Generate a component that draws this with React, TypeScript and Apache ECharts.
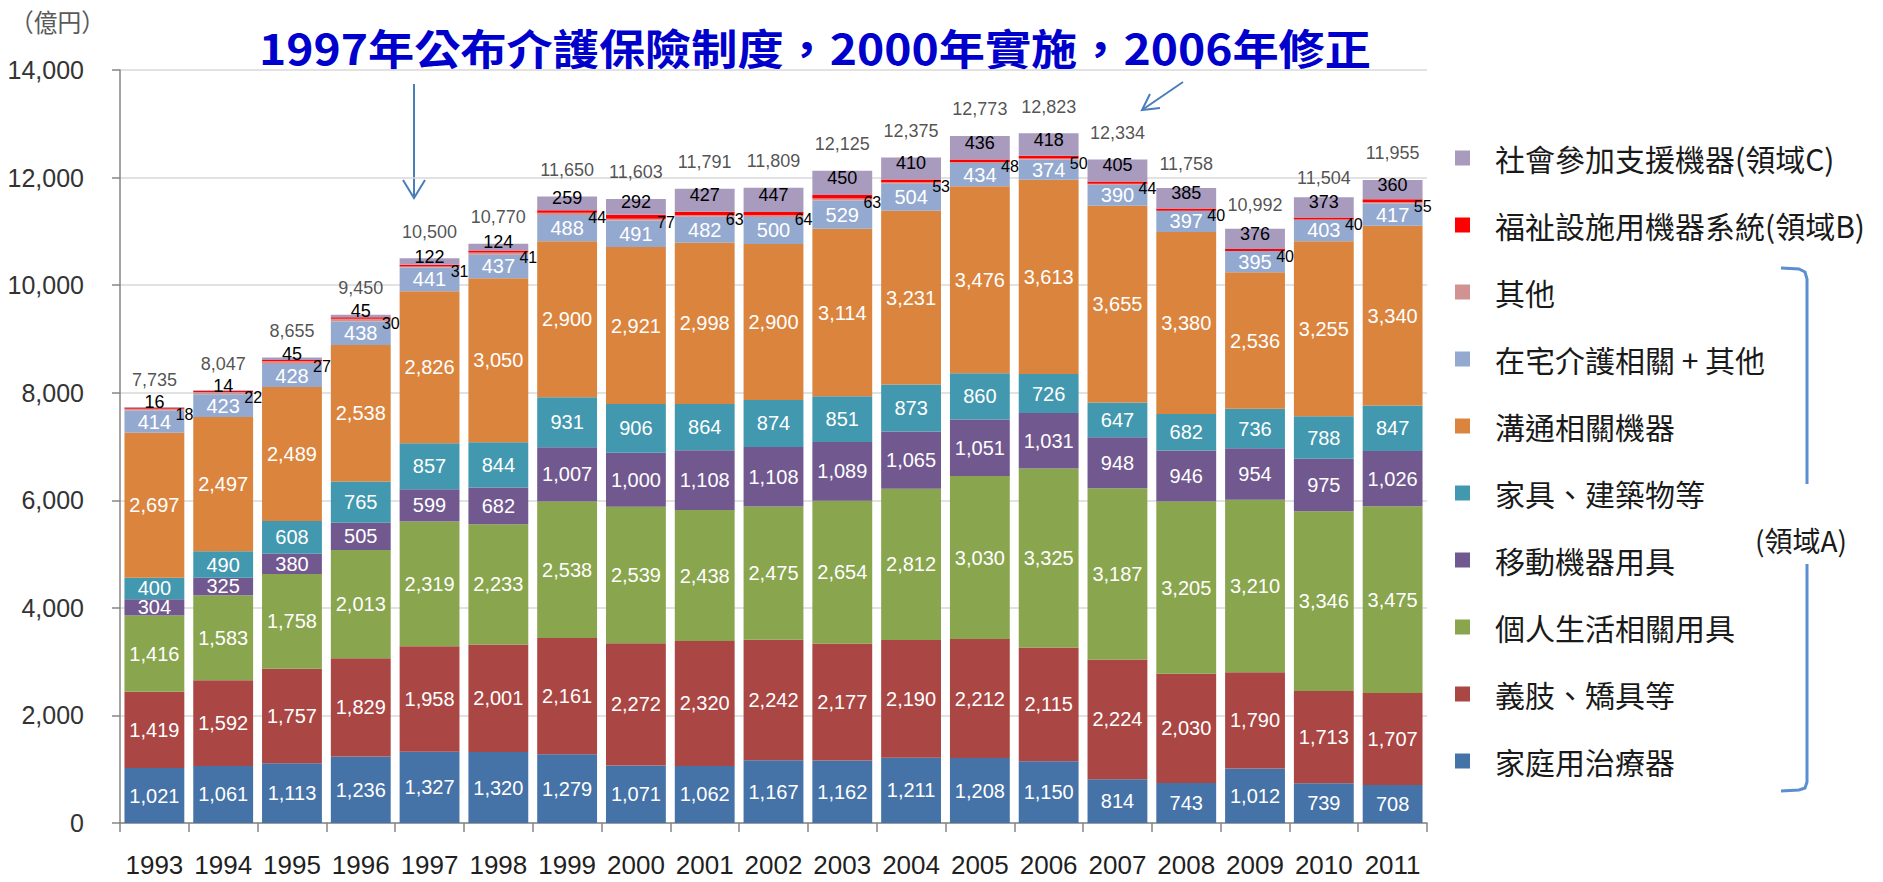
import React, { useEffect, useRef } from 'react';
import * as echarts from 'echarts';

const years = ['1993', '1994', '1995', '1996', '1997', '1998', '1999', '2000', '2001', '2002', '2003', '2004', '2005', '2006', '2007', '2008', '2009', '2010', '2011'];

// 領域A
const homeTherapy = [1021, 1061, 1113, 1236, 1327, 1320, 1279, 1071, 1062, 1167, 1162, 1211, 1208, 1150, 814, 743, 1012, 739, 708];
const prosthetics = [1419, 1592, 1757, 1829, 1958, 2001, 2161, 2272, 2320, 2242, 2177, 2190, 2212, 2115, 2224, 2030, 1790, 1713, 1707];
const personalLife = [1416, 1583, 1758, 2013, 2319, 2233, 2538, 2539, 2438, 2475, 2654, 2812, 3030, 3325, 3187, 3205, 3210, 3346, 3475];
const mobility = [304, 325, 380, 505, 599, 682, 1007, 1000, 1108, 1108, 1089, 1065, 1051, 1031, 948, 946, 954, 975, 1026];
const furniture = [400, 490, 608, 765, 857, 844, 931, 906, 864, 874, 851, 873, 860, 726, 647, 682, 736, 788, 847];
const communication = [2697, 2497, 2489, 2538, 2826, 3050, 2900, 2921, 2998, 2900, 3114, 3231, 3476, 3613, 3655, 3380, 2536, 3255, 3340];
const homeCare = [414, 423, 428, 438, 441, 437, 488, 491, 482, 500, 529, 504, 434, 374, 390, 397, 395, 403, 417];
const others = [30, 40, 50, 51, 20, 38, 43, 34, 29, 32, 36, 26, 18, 21, 20, 0, 0, 0, 20];
// 領域B
const facilitySystems = [18, 22, 27, 30, 31, 41, 44, 77, 63, 64, 63, 53, 48, 50, 44, 40, 40, 40, 55];
// 領域C
const socialSupport = [16, 14, 45, 45, 122, 124, 259, 292, 427, 447, 450, 410, 436, 418, 405, 385, 376, 373, 360];
// 合計
const totals = [7735, 8047, 8655, 9450, 10500, 10770, 11650, 11603, 11791, 11809, 12125, 12375, 12773, 12823, 12334, 11758, 10992, 11504, 11955];

const yTicks = { min: 0, max: 14000, interval: 2000 };

const TITLE = '1997年公布介護保險制度，2000年實施，2006年修正';
const UNIT = '（億円）';

const NUMFONT = "'Liberation Sans','Arial',sans-serif";
const CJK = "'Noto Sans CJK TC','Noto Sans CJK JP',sans-serif";

const fmt = (v: number) => Number(v).toLocaleString('en-US');

const N_HOME = '家庭用治療器';
const N_PROS = '義肢、矯具等';
const N_PERS = '個人生活相關用具';
const N_MOB = '移動機器用具';
const N_FURN = '家具、建築物等';
const N_COMM = '溝通相關機器';
const N_CARE = '在宅介護相關 + 其他';
const N_OTH = '其他';
const N_B = '福祉設施用機器系統(領域B)';
const N_C = '社會參加支援機器(領域C)';

export default function App() {
  const ref = useRef<HTMLDivElement>(null);

  useEffect(() => {
    document.body.style.margin = '0';
    document.body.style.overflow = 'hidden';
    const chart = echarts.init(ref.current!, null, { renderer: 'svg' });

    const whiteLabel = {
      show: true,
      position: 'inside',
      color: '#ffffff',
      fontSize: 20,
      fontFamily: NUMFONT,
      formatter: (p: any) => fmt(p.value),
    };

    const aSeries = [
      { name: N_HOME, data: homeTherapy, color: '#4572A7' },
      { name: N_PROS, data: prosthetics, color: '#AA4643' },
      { name: N_PERS, data: personalLife, color: '#89A54E' },
      { name: N_MOB, data: mobility, color: '#71588F' },
      { name: N_FURN, data: furniture, color: '#4198AF' },
      { name: N_COMM, data: communication, color: '#DB843D' },
      { name: N_CARE, data: homeCare, color: '#93A9CF' },
    ].map((s) => ({
      type: 'bar',
      name: s.name,
      stack: 'total',
      data: s.data,
      barCategoryGap: '13%',
      itemStyle: { color: s.color },
      label: whiteLabel,
    }));

    const option: any = {
      animation: false,
      backgroundColor: '#ffffff',
      grid: { left: 120, right: 456, top: 70, bottom: 59 },
      legend: {
        orient: 'vertical',
        left: 1450,
        top: 138,
        itemWidth: 55,
        itemHeight: 15,
        itemGap: 37,
        icon: 'path://M0,0H10V10H0Z',
        selectedMode: false,
        data: [N_C, N_B, N_OTH, N_CARE, N_COMM, N_FURN, N_MOB, N_PERS, N_PROS, N_HOME],
        textStyle: { fontSize: 30, fontFamily: CJK, color: '#1a1a1a', lineHeight: 30 },
      },
      xAxis: {
        type: 'category',
        data: years,
        axisLine: { lineStyle: { color: '#868686', width: 1.5 } },
        axisTick: { show: true, length: 9, lineStyle: { color: '#868686', width: 1.5 } },
        axisLabel: { interval: 0, fontSize: 26, fontFamily: NUMFONT, color: '#1f1f1f', margin: 29 },
      },
      yAxis: {
        type: 'value',
        min: yTicks.min,
        max: yTicks.max,
        interval: yTicks.interval,
        axisLine: { show: true, lineStyle: { color: '#868686', width: 1.5 } },
        axisTick: { show: true, length: 8, lineStyle: { color: '#868686', width: 1.5 } },
        axisLabel: { fontSize: 25, fontFamily: NUMFONT, color: '#333333', margin: 36, formatter: (v: number) => fmt(v) },
        splitLine: { lineStyle: { color: '#D9D9D9', width: 1.5 } },
      },
      series: [
        ...aSeries,
        {
          type: 'bar',
          name: N_OTH,
          stack: 'total',
          data: others,
          itemStyle: { color: '#D19392' },
        },
        {
          type: 'bar',
          name: N_B,
          stack: 'total',
          data: facilitySystems,
          itemStyle: { color: '#FF0000' },
          label: {
            show: true,
            position: 'insideRight',
            offset: [14, 6],
            color: '#000000',
            fontSize: 16,
            fontFamily: NUMFONT,
            formatter: (p: any) => fmt(p.value),
          },
        },
        {
          type: 'bar',
          name: N_C,
          stack: 'total',
          data: socialSupport,
          itemStyle: { color: '#A99BBD' },
          label: {
            show: true,
            position: 'inside',
            offset: [0, -5],
            color: '#000000',
            fontSize: 18,
            fontFamily: NUMFONT,
            formatter: (p: any) => fmt(p.value),
          },
        },
        {
          type: 'scatter',
          name: '合計',
          data: totals,
          symbolSize: 1,
          itemStyle: { color: 'rgba(0,0,0,0)' },
          silent: true,
          z: 10,
          label: {
            show: true,
            position: 'top',
            distance: 17,
            color: '#262626',
            fontSize: 18,
            fontFamily: NUMFONT,
            formatter: (p: any) => fmt(p.value),
          },
        },
      ],
      graphic: [
        {
          type: 'text',
          x: 10,
          y: 21,
          scaleX: 0.95,
          style: { text: UNIT, fontSize: 25, fontFamily: CJK, fill: '#595959', align: 'left', verticalAlign: 'middle' },
        },
        {
          type: 'text',
          x: 815,
          y: 47,
          scaleX: 1.1,
          style: { text: TITLE, fontSize: 42, fontWeight: 'bold', fontFamily: CJK, fill: '#0000CC', align: 'center', verticalAlign: 'middle' },
        },
        {
          type: 'line',
          shape: { x1: 414, y1: 84, x2: 414, y2: 197 },
          style: { stroke: '#4A7EBB', lineWidth: 2 },
        },
        {
          type: 'polyline',
          shape: { points: [[403, 180], [414, 198], [425, 180]] },
          style: { stroke: '#4A7EBB', lineWidth: 2, fill: null },
        },
        {
          type: 'line',
          shape: { x1: 1183, y1: 82, x2: 1142, y2: 110 },
          style: { stroke: '#4A7EBB', lineWidth: 2 },
        },
        {
          type: 'polyline',
          shape: { points: [[1160, 108], [1142, 110], [1150, 94]] },
          style: { stroke: '#4A7EBB', lineWidth: 2, fill: null },
        },
        {
          type: 'polyline',
          shape: { points: [[1781, 268], [1799, 269], [1805, 272], [1807, 279], [1807, 484]] },
          style: { stroke: '#5B8FCF', lineWidth: 3, fill: null },
        },
        {
          type: 'polyline',
          shape: { points: [[1807, 564], [1807, 782], [1805, 788], [1799, 790], [1781, 791]] },
          style: { stroke: '#5B8FCF', lineWidth: 3, fill: null },
        },
        {
          type: 'text',
          x: 1801,
          y: 540,
          style: { text: '(領域A)', fontSize: 28, fontFamily: CJK, fill: '#1a1a1a', align: 'center', verticalAlign: 'middle' },
        },
      ],
    };

    chart.setOption(option);
    return () => chart.dispose();
  }, []);

  return <div ref={ref} style={{ position: 'fixed', left: 0, top: 0, width: 1883, height: 882 }} />;
}
